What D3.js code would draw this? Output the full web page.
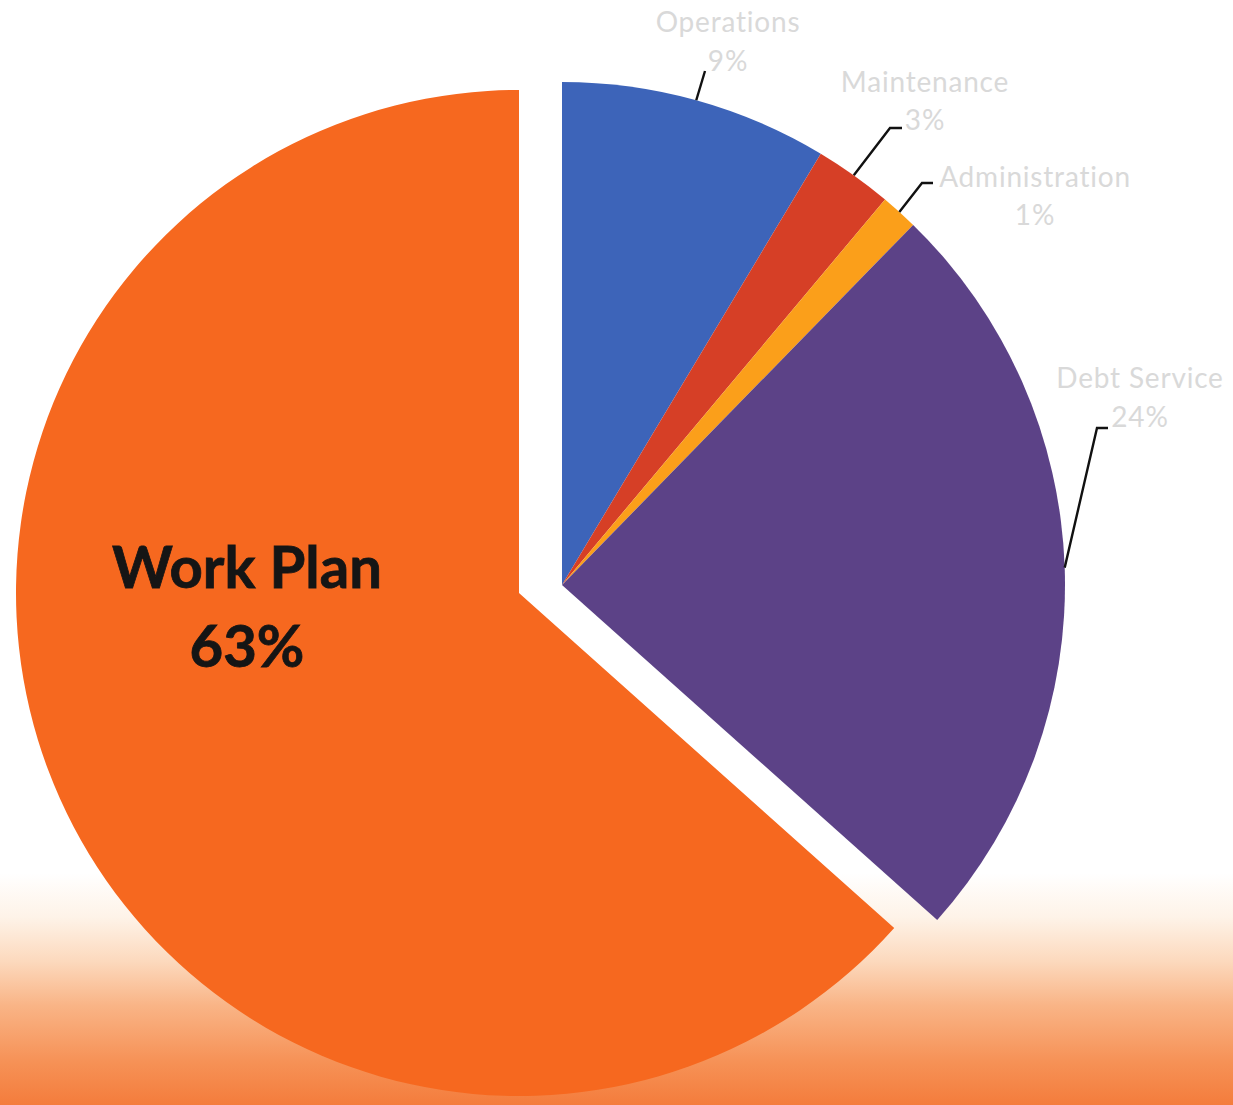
<!DOCTYPE html>
<html>
<head>
<meta charset="utf-8">
<script src="https://cdn.jsdelivr.net/npm/d3@7"></script>
<style>
  html, body { margin: 0; padding: 0; background: #fff; }
  svg { display: block; }
</style>
</head>
<body>
<svg id="chart" width="1233" height="1105"></svg>
<script>
// ---- data ----
const categories = ["Operations", "Maintenance", "Administration", "Debt Service", "Work Plan"];
const values = [8.6, 2.5, 1.2, 24.3, 63.4];
const pctLabels = ["9%", "3%", "1%", "24%", "63%"];
const colors = ["#3d64b9", "#d63f26", "#fb9f1a", "#5c4287", "#f6681f"];

// ---- layout ----
const W = 1233, H = 1105;
const cx = 562, cy = 585, R = 503;
const splitOffset = [-43, 8]; // Work Plan slice pulled away
const labelFont = "Lato, 'Open Sans', sans-serif";
// label layout for small slices: text center, baselines, leader elbow & end
const labelLayout = [
  { x: 728, y1: 32, y2: 71, elbow: null, end: [705, 71] },
  { x: 925, y1: 92, y2: 130, elbow: [890, 128], end: [902, 128] },
  { x: 1035, y1: 187, y2: 225, elbow: [922, 183], end: [933, 183] },
  { x: 1140, y1: 388, y2: 427, elbow: [1097, 428], end: [1108, 428] }
];

const svg = d3.select("#chart");

// background gradient
const defs = svg.append("defs");
const grad = defs.append("linearGradient").attr("id", "bg")
  .attr("x1", 0).attr("y1", 0).attr("x2", 0).attr("y2", 1);
[[0, "#ffffff"], [0.79, "#ffffff"], [0.83, "#fef3e8"], [0.87, "#fcd9bd"],
 [0.91, "#f9b486"], [0.96, "#f69257"], [1, "#f47c3c"]]
  .forEach(([o, c]) => grad.append("stop").attr("offset", o).attr("stop-color", c));
svg.append("rect").attr("width", W).attr("height", H).attr("fill", "url(#bg)");

const pie = d3.pie().sort(null).value(d => d.value).startAngle(0).endAngle(2 * Math.PI);
const data = pie(categories.map((c, i) => ({ name: c, value: values[i], pct: pctLabels[i], color: colors[i] })));
const arc = d3.arc().innerRadius(0).outerRadius(R);

const g = svg.append("g").attr("transform", `translate(${cx},${cy})`);

g.selectAll("path.slice").data(data).join("path")
  .attr("class", "slice")
  .attr("d", arc)
  .attr("fill", d => d.data.color)
  .attr("transform", (d, i) => i === 4 ? `translate(${splitOffset[0]},${splitOffset[1]})` : null);

// Work Plan label inside the slice
const wp = data[4];
const wpG = svg.append("g");
wpG.append("text").attr("x", 247).attr("y", 588)
  .attr("text-anchor", "middle").attr("font-family", labelFont)
  .attr("font-weight", "bold").attr("font-size", 58).attr("fill", "#151515")
  .attr("stroke", "#151515").attr("stroke-width", 0.8)
  .text(wp.data.name);
wpG.append("text").attr("x", 247).attr("y", 667)
  .attr("text-anchor", "middle").attr("font-family", labelFont)
  .attr("font-weight", "bold").attr("font-size", 58).attr("fill", "#151515")
  .attr("stroke", "#151515").attr("stroke-width", 0.8)
  .text(wp.data.pct);

// Outside labels with leader lines
data.slice(0, 4).forEach((d, i) => {
  const L = labelLayout[i];
  const mid = (d.startAngle + d.endAngle) / 2;
  const sx = cx + R * Math.sin(mid), sy = cy - R * Math.cos(mid);
  const pts = [[sx, sy]];
  if (L.elbow) pts.push(L.elbow);
  pts.push(L.end);
  svg.append("path")
    .attr("d", d3.line()(pts))
    .attr("fill", "none").attr("stroke", "#111").attr("stroke-width", 2.4);
  svg.append("text").attr("x", L.x).attr("y", L.y1)
    .attr("text-anchor", "middle").attr("font-family", labelFont)
    .attr("font-size", 28).attr("letter-spacing", 0.8)
    .attr("fill", "#d9d9d9").text(d.data.name);
  svg.append("text").attr("x", L.x).attr("y", L.y2)
    .attr("text-anchor", "middle").attr("font-family", labelFont)
    .attr("font-size", 28).attr("letter-spacing", 0.8)
    .attr("fill", "#d9d9d9").text(d.data.pct);
});
</script>
</body>
</html>
